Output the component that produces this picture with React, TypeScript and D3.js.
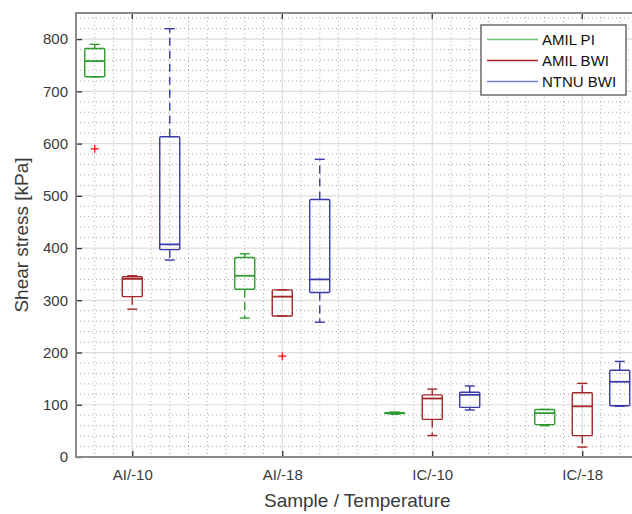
import React, { useRef, useEffect } from 'react';
import * as d3 from 'd3';

// categories on the x axis
const categories = ['AI/-10', 'AI/-18', 'IC/-10', 'IC/-18'];
const seriesNames = ['AMIL PI', 'AMIL BWI', 'NTNU BWI'];

// box stats per category: [lower whisker, q1, median, q3, upper whisker]
const amilPi = [
    [728, 728, 758, 782, 790],
    [266, 321, 347, 382, 389],
    [82, 83, 84, 85, 86],
    [60, 62, 84, 91, 91],
];
const amilBwi = [
    [283, 307, 341, 345, 347],
    [270, 270, 307, 320, 320],
    [41, 72, 112, 119, 130],
    [19, 41, 97, 123, 141],
];
const ntnuBwi = [
    [377, 397, 407, 613, 820],
    [258, 315, 340, 493, 570],
    [90, 95, 119, 124, 136],
    [97, 98, 144, 166, 183],
];

// outliers: [category index, series index, value]
const outliers = [
    [0, 0, 590],
    [1, 1, 193],
];

const yTicks = [0, 100, 200, 300, 400, 500, 600, 700, 800];

const colors = ['#2f9a2f', '#a32626', '#3a3aa8'];
const legendColors = ['#6cbf6c', '#a32626', '#7a7ad0'];
const font = 'Liberation Sans, Arial, sans-serif';

export default function App() {
    const svgRef = useRef(null);
    const width = 632;
    const height = 514;
    const margin = { top: 13, left: 76, bottom: 57 };

    useEffect(() => {
        const svg = d3.select(svgRef.current);
        svg.selectAll('*').remove();

        const series = [amilPi, amilBwi, ntnuBwi];
        const plotBottom = height - margin.bottom;

        const x = d3.scaleLinear()
            .domain([0.625, 4.5])
            .range([margin.left, margin.left + 3.875 * 150]);

        const y = d3.scaleLinear()
            .domain([0, 850])
            .range([plotBottom, margin.top]);

        const offsets = [-0.25, 0, 0.25];
        const boxHalf = 10;
        const capHalf = 5;

        svg.append('rect')
            .attr('x', margin.left).attr('y', margin.top)
            .attr('width', width - margin.left).attr('height', plotBottom - margin.top)
            .attr('fill', 'white');

        // minor grid
        const minorY = d3.range(20, 850, 20).filter(v => v % 100 !== 0);
        const minorX = d3.range(0.75, 4.5, 0.125).filter(v => Math.abs(v - Math.round(v)) > 1e-6);

        svg.append('g')
            .selectAll('line')
            .data(minorY)
            .join('line')
            .attr('x1', margin.left).attr('x2', width)
            .attr('y1', d => y(d)).attr('y2', d => y(d))
            .attr('stroke', '#aaaaaa')
            .attr('stroke-width', 1)
            .attr('stroke-dasharray', '1,3');

        svg.append('g')
            .selectAll('line')
            .data(minorX)
            .join('line')
            .attr('x1', d => x(d)).attr('x2', d => x(d))
            .attr('y1', margin.top).attr('y2', plotBottom)
            .attr('stroke', '#aaaaaa')
            .attr('stroke-width', 1)
            .attr('stroke-dasharray', '1,3');

        // major grid
        svg.append('g')
            .selectAll('line')
            .data(yTicks)
            .join('line')
            .attr('x1', margin.left).attr('x2', width)
            .attr('y1', d => y(d)).attr('y2', d => y(d))
            .attr('stroke', '#dcdcdc')
            .attr('stroke-width', 1.2);

        svg.append('g')
            .selectAll('line')
            .data(categories)
            .join('line')
            .attr('x1', (d, i) => x(i + 1)).attr('x2', (d, i) => x(i + 1))
            .attr('y1', margin.top).attr('y2', plotBottom)
            .attr('stroke', '#dcdcdc')
            .attr('stroke-width', 1.2);

        // boxes
        series.forEach((stats, s) => {
            const g = svg.append('g').attr('fill', 'none').attr('stroke', colors[s]).attr('stroke-width', 1.4);
            stats.forEach((st, c) => {
                const cx = x(c + 1 + offsets[s]);
                const [lo, q1, med, q3, hi] = st;
                // whiskers
                g.append('line')
                    .attr('x1', cx).attr('x2', cx)
                    .attr('y1', y(q3)).attr('y2', y(hi))
                    .attr('stroke-dasharray', '8,5');
                g.append('line')
                    .attr('x1', cx).attr('x2', cx)
                    .attr('y1', y(q1)).attr('y2', y(lo))
                    .attr('stroke-dasharray', '8,5');
                // caps
                [lo, hi].forEach(v => {
                    g.append('line')
                        .attr('x1', cx - capHalf).attr('x2', cx + capHalf)
                        .attr('y1', y(v)).attr('y2', y(v));
                });
                // box
                g.append('rect')
                    .attr('x', cx - boxHalf)
                    .attr('y', y(q3))
                    .attr('width', boxHalf * 2)
                    .attr('height', Math.max(y(q1) - y(q3), 0.5))
                    .attr('rx', 1);
                // median
                g.append('line')
                    .attr('x1', cx - boxHalf).attr('x2', cx + boxHalf)
                    .attr('y1', y(med)).attr('y2', y(med))
                    .attr('stroke-width', 1.8);
            });
        });

        // outliers
        svg.append('g')
            .selectAll('path')
            .data(outliers)
            .join('path')
            .attr('d', d => {
                const cx = x(d[0] + 1 + offsets[d[1]]);
                const cy = y(d[2]);
                return `M${cx - 4},${cy}H${cx + 4}M${cx},${cy - 4}V${cy + 4}`;
            })
            .attr('stroke', '#ff0000')
            .attr('stroke-width', 1.2);

        // axes
        const yAxis = svg.append('g')
            .attr('transform', `translate(${margin.left},0)`)
            .call(d3.axisLeft(y).tickValues(yTicks).tickSize(-6).tickPadding(8).tickSizeOuter(0));
        yAxis.select('.domain').remove();
        yAxis.selectAll('.tick line').attr('stroke', '#333').attr('stroke-width', 1.3);
        yAxis.selectAll('.tick text')
            .attr('font-size', 15).attr('font-family', font).attr('fill', '#3a3a3a');

        const xAxis = svg.append('g')
            .attr('transform', `translate(0,${plotBottom})`)
            .call(d3.axisBottom(x).tickValues([1, 2, 3, 4]).tickFormat((d, i) => categories[i]).tickSize(-6).tickPadding(12));
        xAxis.select('.domain').remove();
        xAxis.selectAll('.tick line').attr('stroke', '#333').attr('stroke-width', 1.3);
        xAxis.selectAll('.tick text')
            .attr('font-size', 15).attr('font-family', font).attr('fill', '#3a3a3a');

        // top ticks
        svg.append('g')
            .selectAll('line')
            .data(categories)
            .join('line')
            .attr('x1', (d, i) => x(i + 1)).attr('x2', (d, i) => x(i + 1))
            .attr('y1', margin.top).attr('y2', margin.top + 6)
            .attr('stroke', '#333').attr('stroke-width', 1.3);

        // axes frame
        svg.append('path')
            .attr('d', `M${width},${margin.top}H${margin.left}V${plotBottom}H${width}`)
            .attr('fill', 'none')
            .attr('stroke', '#8a8a8a')
            .attr('stroke-width', 2);

        // axis labels
        svg.append('text')
            .attr('transform', `translate(28,${(margin.top + plotBottom) / 2}) rotate(-90)`)
            .attr('text-anchor', 'middle')
            .attr('font-size', 19).attr('font-family', font).attr('fill', '#3a3a3a')
            .text('Shear stress [kPa]');

        svg.append('text')
            .attr('x', x(2.5))
            .attr('y', 507)
            .attr('text-anchor', 'middle')
            .attr('font-size', 19).attr('font-family', font).attr('fill', '#3a3a3a')
            .text('Sample / Temperature');

        // legend
        const legend = svg.append('g');
        legend.append('rect')
            .attr('x', 481).attr('y', 25)
            .attr('width', 145).attr('height', 70)
            .attr('fill', 'white')
            .attr('stroke', '#555')
            .attr('stroke-width', 1.3);
        seriesNames.forEach((name, i) => {
            const ly = 39.5 + i * 21;
            legend.append('line')
                .attr('x1', 487).attr('x2', 538)
                .attr('y1', ly).attr('y2', ly)
                .attr('stroke', legendColors[i])
                .attr('stroke-width', 1.4);
            legend.append('text')
                .attr('x', 542).attr('y', ly)
                .attr('dy', '0.35em')
                .attr('font-size', 15).attr('font-family', font).attr('fill', '#111')
                .text(name);
        });
    }, []);

    return (
        <svg
            ref={svgRef}
            width={width}
            height={height}
            style={{ position: 'absolute', left: 0, top: 0, overflow: 'hidden', background: 'white' }}
        />
    );
}
